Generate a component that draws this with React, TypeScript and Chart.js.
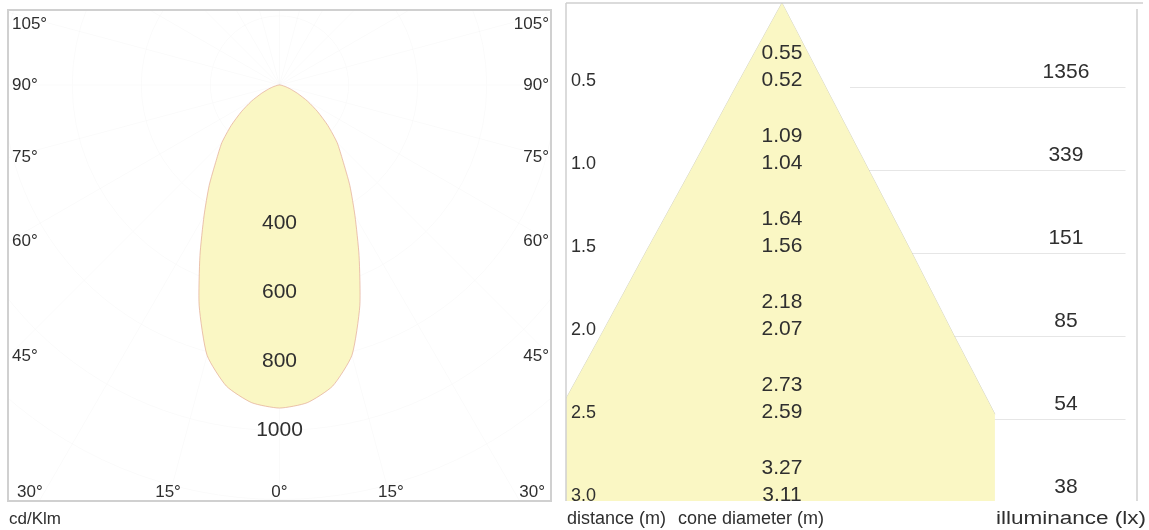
import React, { useEffect, useRef } from "react";
import { Chart, registerables } from "chart.js";

Chart.register(...registerables);

// ---------- Left panel: polar light distribution (cd/klm) ----------
const polarAngles = [0, 5, 10, 15, 20, 25, 30, 35, 40, 45, 50, 55, 60, 65, 70, 75, 80, 85, 90];
const polarIntensity = [935, 923, 885, 810, 680, 545, 437, 355, 285, 236, 183, 135, 94, 58, 33, 17, 7, 2, 0];
const intensityRingLabels = [400, 600, 800, 1000];
const gridRings = [200, 400, 600, 800, 1000, 1200];
const angleTickLabels = [0, 15, 30, 45, 60, 75, 90, 105];
const intensityUnit = "cd/Klm";

// ---------- Right panel: cone diagram ----------
const distances = [0.5, 1.0, 1.5, 2.0, 2.5, 3.0];
const coneDiameterC0 = [0.55, 1.09, 1.64, 2.18, 2.73, 3.27];
const coneDiameterC90 = [0.52, 1.04, 1.56, 2.07, 2.59, 3.11];
const illuminance = [1356, 339, 151, 85, 54, 38];
const columnTitles = ["distance (m)", "cone diameter (m)", "illuminance (lx)"];

// layout constants (in the scales' own units)
const CONE_COLUMN_END = 1.283; // where the illuminance column begins
const ROW_LINE_START = 0.41;
const ROW_LINE_END = 2.07;

const FONT = '"Liberation Sans", Arial, Helvetica, sans-serif';
const TEXT = "#2f2f2f";
const YELLOW = "rgb(250,247,196)";
const FRAME = "#d0d0d0";

function polarPoint(angleDeg: number, value: number) {
  const t = (angleDeg * Math.PI) / 180;
  return { x: value * Math.sin(t), y: value * Math.cos(t) };
}

const lobePoints: { x: number; y: number }[] = [];
for (let i = polarAngles.length - 1; i >= 0; i--) lobePoints.push(polarPoint(-polarAngles[i], polarIntensity[i]));
for (let i = 1; i < polarAngles.length; i++) lobePoints.push(polarPoint(polarAngles[i], polarIntensity[i]));

// cone geometry from the diameter tables
const apex = { x: 0, y: 0 };
const dMax = distances[distances.length - 1];
const leftEdge = [apex, ...distances.map((d, i) => ({ x: -coneDiameterC0[i] / 2, y: d }))];
const rightEdge: { x: number; y: number }[] = [apex];
{
  let prev = apex;
  for (let i = 0; i < distances.length; i++) {
    const p = { x: coneDiameterC90[i] / 2, y: distances[i] };
    if (p.x < CONE_COLUMN_END) {
      rightEdge.push(p);
      prev = p;
    } else {
      const t = (CONE_COLUMN_END - prev.x) / (p.x - prev.x);
      rightEdge.push({ x: CONE_COLUMN_END, y: prev.y + t * (p.y - prev.y) });
      break;
    }
  }
}
const conePolygon = [...rightEdge, { x: CONE_COLUMN_END, y: dMax }, ...leftEdge.slice().reverse()];

const leftPlugin = {
  id: "polarDecor",
  beforeDatasetsDraw(chart: any) {
    const { ctx, chartArea: a } = chart;
    const xs = chart.scales.x;
    const ys = chart.scales.y;
    const ox = xs.getPixelForValue(0);
    const oy = ys.getPixelForValue(0);
    ctx.save();
    ctx.beginPath();
    ctx.rect(a.left, a.top, a.right - a.left, a.bottom - a.top);
    ctx.clip();
    ctx.strokeStyle = "rgba(0,0,0,0.018)";
    ctx.lineWidth = 1;
    for (const r of gridRings) {
      const rp = xs.getPixelForValue(r) - ox;
      ctx.beginPath();
      ctx.arc(ox, oy, rp, 0, Math.PI * 2);
      ctx.stroke();
    }
    for (let ang = -180; ang < 180; ang += 15) {
      const t = (ang * Math.PI) / 180;
      ctx.beginPath();
      ctx.moveTo(ox, oy);
      ctx.lineTo(ox + Math.sin(t) * 2000, oy + Math.cos(t) * 2000);
      ctx.stroke();
    }
    ctx.restore();
  },
  afterDatasetsDraw(chart: any) {
    const { ctx, chartArea: a } = chart;
    const xs = chart.scales.x;
    const ys = chart.scales.y;
    const ox = xs.getPixelForValue(0);
    const oy = ys.getPixelForValue(0);
    ctx.save();
    ctx.fillStyle = TEXT;
    // ring labels along 0°
    ctx.font = `21px ${FONT}`;
    ctx.textAlign = "center";
    ctx.textBaseline = "middle";
    for (const v of intensityRingLabels) {
      ctx.fillText(String(v), ox, ys.getPixelForValue(v));
    }
    // angle labels where the rays meet the frame
    ctx.font = `17px ${FONT}`;
    for (const ang of angleTickLabels) {
      const t = (ang * Math.PI) / 180;
      const sides = ang === 0 ? [1] : [-1, 1];
      for (const side of sides) {
        const label = `${ang}°`;
        const w = ctx.measureText(label).width;
        const cos = Math.cos(t);
        const sin = Math.sin(t);
        const sBottom = cos > 1e-6 ? (a.bottom - oy) / cos : Infinity;
        const sWall = sin > 1e-6 ? (side > 0 ? a.right - ox : ox - a.left) / sin : Infinity;
        if (sBottom <= sWall) {
          const x = ox + side * sBottom * sin;
          ctx.textBaseline = "alphabetic";
          if (x - w / 2 < a.left + 30) {
            ctx.textAlign = "left";
            ctx.fillText(label, a.left + 9, a.bottom - 4);
          } else if (x + w / 2 > a.right - 30) {
            ctx.textAlign = "right";
            ctx.fillText(label, a.right - 6, a.bottom - 4);
          } else {
            ctx.textAlign = "center";
            ctx.fillText(label, x, a.bottom - 4);
          }
        } else {
          let y = oy + sWall * cos;
          y = Math.max(a.top + 14, Math.min(a.bottom - 14, y));
          ctx.textBaseline = "middle";
          if (side < 0) {
            ctx.textAlign = "left";
            ctx.fillText(label, a.left + 4, y);
          } else {
            ctx.textAlign = "right";
            ctx.fillText(label, a.right - 2, y);
          }
        }
      }
    }
    ctx.textAlign = "left";
    ctx.textBaseline = "alphabetic";
    ctx.fillText(intensityUnit, a.left + 1, a.bottom + 23);
    ctx.restore();
  },
  afterDraw(chart: any) {
    const { ctx, chartArea: a } = chart;
    ctx.save();
    ctx.strokeStyle = FRAME;
    ctx.lineWidth = 2;
    ctx.strokeRect(a.left, a.top, a.right - a.left, a.bottom - a.top);
    ctx.restore();
  },
};

const rightPlugin = {
  id: "coneDecor",
  beforeDatasetsDraw(chart: any) {
    const { ctx } = chart;
    const xs = chart.scales.x;
    const ys = chart.scales.y;
    ctx.save();
    ctx.strokeStyle = "#e6e6e6";
    ctx.lineWidth = 1;
    for (const d of distances.slice(0, -1)) {
      const y = Math.round(ys.getPixelForValue(d)) + 1.5;
      ctx.beginPath();
      ctx.moveTo(xs.getPixelForValue(ROW_LINE_START), y);
      ctx.lineTo(xs.getPixelForValue(ROW_LINE_END), y);
      ctx.stroke();
    }
    ctx.restore();
  },
  afterDatasetsDraw(chart: any) {
    const { ctx, chartArea: a, width } = chart;
    const xs = chart.scales.x;
    const ys = chart.scales.y;
    const cx = xs.getPixelForValue(0);
    const illX = (xs.getPixelForValue(CONE_COLUMN_END) + a.right) / 2;
    ctx.save();
    ctx.fillStyle = TEXT;
    ctx.textBaseline = "alphabetic";
    distances.forEach((d, i) => {
      const y = ys.getPixelForValue(d);
      ctx.font = `18px ${FONT}`;
      ctx.textAlign = "left";
      ctx.fillText(d.toFixed(1), a.left + 5, y);
      ctx.font = `21px ${FONT}`;
      ctx.textAlign = "center";
      ctx.fillText(coneDiameterC90[i].toFixed(2), cx, y);
      ctx.fillText(coneDiameterC0[i].toFixed(2), cx, y - 27);
      ctx.fillText(String(illuminance[i]), illX, y - 8);
    });
    const by = a.bottom + 23;
    ctx.font = `18px ${FONT}`;
    ctx.textAlign = "left";
    ctx.fillText(columnTitles[0], a.left + 1, by);
    ctx.fillText(columnTitles[1], a.left + 112, by);
    // last title is drawn slightly widened, right-aligned to the canvas edge
    const sx = 1.25;
    const tw = ctx.measureText(columnTitles[2]).width * sx;
    ctx.save();
    ctx.translate(width - 3 - tw, by);
    ctx.scale(sx, 1);
    ctx.textAlign = "left";
    ctx.fillText(columnTitles[2], 0, 0);
    ctx.restore();
    ctx.restore();
  },
  afterDraw(chart: any) {
    const { ctx, chartArea: a } = chart;
    ctx.save();
    ctx.strokeStyle = FRAME;
    ctx.lineWidth = 1.5;
    ctx.beginPath();
    ctx.moveTo(a.left, a.top);
    ctx.lineTo(a.right + 6, a.top);
    ctx.moveTo(a.left, a.top);
    ctx.lineTo(a.left, a.bottom);
    ctx.moveTo(a.right, a.top + 6);
    ctx.lineTo(a.right, a.bottom);
    ctx.stroke();
    ctx.restore();
  },
};

export default function App() {
  const leftRef = useRef<HTMLCanvasElement>(null);
  const rightRef = useRef<HTMLCanvasElement>(null);

  useEffect(() => {
    const common = {
      responsive: false,
      animation: false as const,
      devicePixelRatio: 1,
      events: [] as any[],
      plugins: { legend: { display: false }, tooltip: { enabled: false }, title: { display: false } },
    };
    const c1 = new Chart(leftRef.current!, {
      type: "scatter",
      data: {
        datasets: [
          {
            data: lobePoints,
            showLine: true,
            fill: "shape",
            backgroundColor: YELLOW,
            borderColor: "rgba(226,170,150,0.7)",
            borderWidth: 1,
            pointRadius: 0,
            tension: 0.2,
          } as any,
        ],
      },
      options: {
        ...common,
        layout: { padding: { left: 8, top: 10, right: 9, bottom: 29 } },
        scales: {
          x: { type: "linear", min: -786, max: 786, display: false },
          y: { type: "linear", min: -217, max: 1204, reverse: true, display: false },
        },
      } as any,
      plugins: [leftPlugin],
    });
    const c2 = new Chart(rightRef.current!, {
      type: "scatter",
      data: {
        datasets: [
          {
            data: conePolygon,
            showLine: true,
            fill: "shape",
            backgroundColor: YELLOW,
            borderWidth: 0,
            borderColor: "rgba(0,0,0,0)",
            pointRadius: 0,
          } as any,
          {
            data: leftEdge,
            showLine: true,
            fill: false,
            borderColor: "rgba(175,175,150,0.55)",
            borderWidth: 1,
            pointRadius: 0,
          } as any,
          {
            data: rightEdge,
            showLine: true,
            fill: false,
            borderColor: "rgba(175,175,150,0.55)",
            borderWidth: 1,
            pointRadius: 0,
          } as any,
        ],
      },
      options: {
        ...common,
        layout: { padding: { left: 6, top: 3, right: 12, bottom: 29 } },
        scales: {
          x: { type: "linear", min: -1.301, max: 2.139, display: false },
          y: { type: "linear", min: 0, max: 3.0, reverse: true, display: false },
        },
      } as any,
      plugins: [rightPlugin],
    });
    return () => {
      c1.destroy();
      c2.destroy();
    };
  }, []);

  return (
    <div style={{ position: "absolute", left: 0, top: 0, width: 1149, height: 530, background: "#ffffff" }}>
      <canvas ref={leftRef} width={560} height={530} style={{ position: "absolute", left: 0, top: 0, width: 560, height: 530 }} />
      <canvas ref={rightRef} width={589} height={530} style={{ position: "absolute", left: 560, top: 0, width: 589, height: 530 }} />
    </div>
  );
}
